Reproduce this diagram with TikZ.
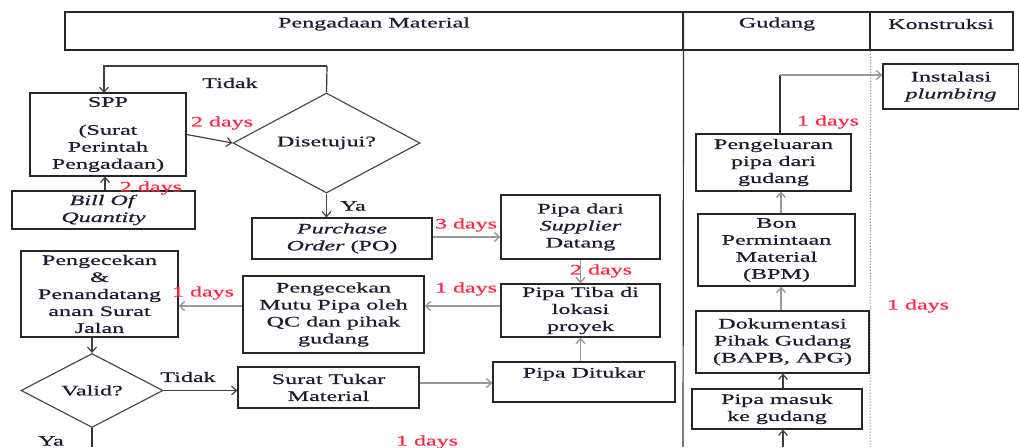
\documentclass[tikz,border=0pt]{standalone}
\usepackage{fontspec}
\setmainfont[FakeStretch=1.66,FakeBold=0.6]{Liberation Serif}
\usetikzlibrary{shapes.geometric,arrows.meta}
\definecolor{txt}{RGB}{28,28,48}
\definecolor{dayred}{RGB}{255,40,70}
\newcommand\fs{\fontsize{14.5}{17}\selectfont}
\tikzset{
  box/.style={draw=black!85, line width=1.2pt, rectangle, inner sep=0pt, align=center, text=txt, font=\fs},
  dia/.style={draw=black!70, line width=1.2pt, diamond, inner sep=0pt, align=center, text=txt, font=\fs},
  lbl/.style={text=txt, font=\fs, inner sep=0pt},
  days/.style={text=dayred, font=\fs, inner sep=0pt},
  arD/.style={draw=black!75, line width=1.2pt, -{Straight Barb[length=5pt,width=9pt]}},
  arL/.style={draw=black!40, line width=1.4pt, -{Straight Barb[length=5pt,width=9pt]}},
  lnD/.style={draw=black!80, line width=1.2pt},
}
\begin{document}
\begin{tikzpicture}[x=1pt,y=-1pt]
\useasboundingbox (0,0) rectangle (1019,447);
% header
\node[box, minimum width=618, minimum height=38] (hP) at (374,31) {};
\node[box, minimum width=187, minimum height=38] (hG) at (776.5,31) {};
\node[box, minimum width=143, minimum height=38] (hK) at (941.5,31) {};
\node[lbl] (tP) at (374,24) {Pengadaan Material};
\node[lbl] (tG) at (777,24) {Gudang};
\node[lbl] (tK) at (941,24) {Konstruksi};
% lane lines
\coordinate (lb1) at (683,447);
\coordinate (lb2) at (870,447);
\draw[lnD] (hP.north east) -- (lb1);
\draw[dotted, line width=1pt, black!60] (hG.south east) -- (lb2);

% Pengadaan lane
\node[box, minimum width=156, minimum height=83] (spp) at (108,134.5)
  {SPP\\[11pt](Surat\\Perintah\\Pengadaan)};
\node[box, minimum width=183, minimum height=38] (boq) at (103.5,210)
  {\textit{Bill Of}\\\textit{Quantity}};
\node[dia, aspect=1.87, minimum width=187, minimum height=100] (dis) at (326.5,143) {Disetujui?};
\node[box, minimum width=180, minimum height=41] (po) at (342,238.5)
  {\textit{Purchase}\\\textit{Order} (PO)};
\node[box, minimum width=159, minimum height=64] (dari) at (580.5,227)
  {Pipa dari\\\textit{Supplier}\\Datang};
\node[box, minimum width=159, minimum height=53] (tiba) at (580.5,310.5)
  {Pipa Tiba di\\lokasi\\proyek};
\node[box, minimum width=181, minimum height=77] (mutu) at (333.5,314.5)
  {Pengecekan\\Mutu Pipa oleh\\QC dan pihak\\gudang};
\node[box, minimum width=157, minimum height=86] (cek) at (99.5,294)
  {Pengecekan\\\&\\Penandatang\\anan Surat\\Jalan};
\node[dia, aspect=1.9, minimum width=142, minimum height=74] (valid) at (92,390.5) {Valid?};
\node[box, minimum width=181, minimum height=41] (stm) at (328.5,387.5)
  {Surat Tukar\\Material};
\node[box, minimum width=182, minimum height=40] (tukar) at (584,382)
  {Pipa Ditukar\\[2pt]~};

% Gudang lane
\node[box, minimum width=170, minimum height=40] (masuk) at (777,409)
  {Pipa masuk\\ke gudang};
\node[box, minimum width=173, minimum height=62] (dok) at (782.5,342)
  {Dokumentasi\\Pihak Gudang\\(BAPB, APG)};
\node[box, minimum width=157, minimum height=72] (bpm) at (776.5,250)
  {Bon\\Permintaan\\Material\\(BPM)};
\node[box, minimum width=155, minimum height=57] (keluar) at (773.5,162.5)
  {Pengeluaran\\pipa dari\\gudang};
% Konstruksi lane
\node[box, minimum width=136, minimum height=45] (inst) at (951,86.5)
  {Instalasi\\\textit{plumbing}};

% connectors
\draw[lnD] (dis.north) -- (327,66) coordinate (t1);
\draw[arD] (t1) -| (104,93);
\node[lbl] (tidak1) at (230,83) {Tidak};
\draw[arD] (spp.east) -- (dis.west);
\node[days] (d1) at (222,123) {2 days};
\draw[arD] (boq.north -| 105,0) -- (spp.south -| 105,0);
\node[days] (d2) at (151,188) {2 days};
\draw[arD] (dis.south) -- (po.north -| dis.south);
\node[lbl] (ya1) at (353,206) {Ya};
\draw[arL] (po.east |- 0,237) -- (dari.west |- 0,237);
\node[days] (d3) at (466,225) {3 days};
\draw[arL] (dari.south) -- (tiba.north);
\node[days] (d4) at (601,271) {2 days};
\draw[arL] (tiba.west |- 0,306) -- (mutu.east |- 0,306);
\node[days] (d5) at (466,289) {1 days};
\draw[arL] (mutu.west |- 0,306) -- (cek.east |- 0,306);
\node[days] (d6) at (203,293) {1 days};
\draw[arD] (valid.north |- cek.south) -- (valid.north);
\draw[arD] (valid.east) -- (stm.west |- valid.east);
\node[lbl] (tidak2) at (188,377) {Tidak};
\draw[arL] (stm.east |- 0,383) -- (tukar.west |- 0,383);
\draw[arL] (tiba.south |- tukar.north) -- (tiba.south);
\coordinate (vb) at (92,447);
\draw[lnD] (valid.south) -- (vb);
\node[lbl] (ya2) at (51,441) {Ya};
\node[days] (d7) at (427,442) {1 days};

% Gudang connectors
\coordinate (gb) at (783,447);
\draw[arD] (gb) -- (masuk.south -| gb);
\draw[arD] (masuk.north -| gb) -- (dok.south -| gb);
\draw[arL] (dok.north -| 781,0) -- (bpm.south -| 781,0);
\draw[arL] (bpm.north -| 781,0) -- (keluar.south -| 781,0);
\draw[lnD] (keluar.north -| 780,0) -- (780,75) coordinate (t2);
\draw[arL] (t2) -- (inst.west |- t2);
\node[days] (d8) at (828,122) {1 days};
\node[days] (d9) at (918,306) {1 days};
\end{tikzpicture}
\end{document}
